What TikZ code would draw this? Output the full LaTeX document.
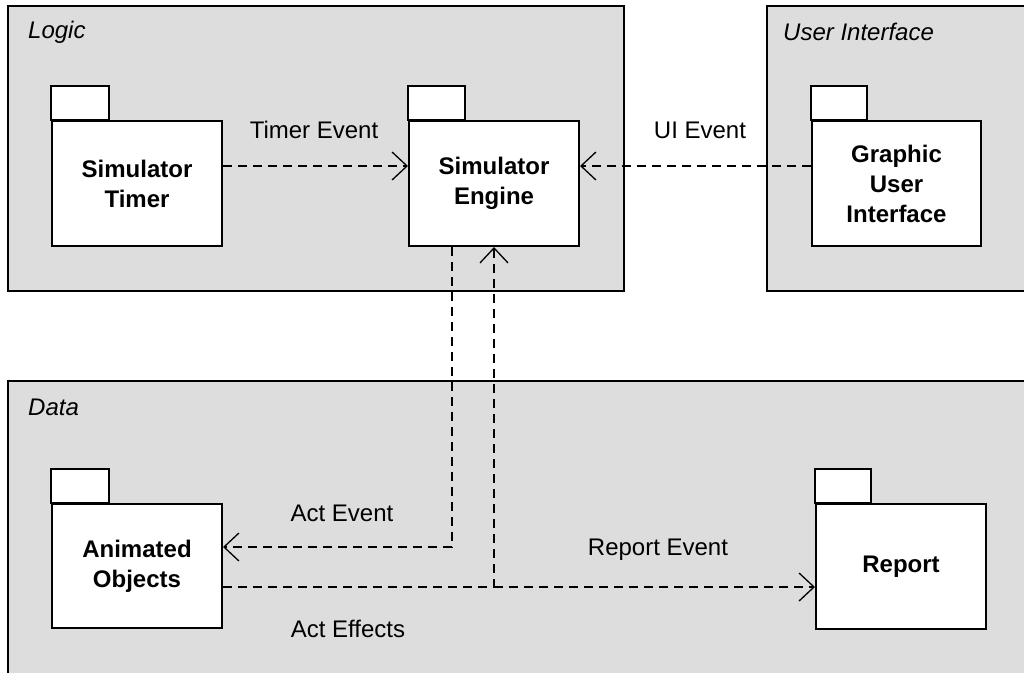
\documentclass[tikz,border=0pt]{standalone}
\usepackage{fontspec}
\setmainfont{Liberation Sans}
\usetikzlibrary{arrows.meta}

\definecolor{framegray}{RGB}{221,221,221}

\tikzset{
  frame/.style={draw=black, line width=2pt, fill=framegray},
  title/.style={font=\fontsize{24}{28}\selectfont\itshape, anchor=west, inner sep=0pt},
  pkg/.style={draw=black, line width=2pt, fill=white, minimum width=170pt,
    minimum height=125pt, inner sep=0pt, align=center,
    font=\fontsize{24}{30}\selectfont\bfseries},
  tab/.style={draw=black, line width=2pt, fill=white},
  dep/.style={line width=1.3pt, dash pattern=on 9pt off 6pt,
    -{Straight Barb[length=15pt, width=28pt]}},
  lbl/.style={font=\fontsize{24}{28}\selectfont, inner sep=0pt}
}

\begin{document}
\begin{tikzpicture}[x = 1pt, y = -1pt]
\useasboundingbox (0, 0) rectangle (1024, 672);
\clip (0, 0) rectangle (1024, 672);

% frames
\draw[frame] (8, 6) rectangle (624, 291);
\draw[frame] (767, 6) rectangle (1040, 291);
\draw[frame] (8, 381) rectangle (1040, 690);
\node[title] (logic) at (28, 32) {Logic};
\node[title] (ui) at (783, 32) {User Interface};
\node[title] (data) at (28, 407) {Data};

% packages
\node[pkg] (timer) at (137, 183.5) {Simulator\\Timer};
\node[pkg] (engine) at (494, 183.5) {Simulator\\Engine};
\node[pkg, minimum width=169pt] (gui) at (896.5, 183.5) {Graphic\\User\\Interface};
\node[pkg, minimum width=170pt, minimum height=124pt] (animated) at (137, 566) {Animated\\Objects};
\node[pkg] (report) at (901, 566.5) {Report};
\draw[tab] (timer.north west) rectangle ++(58, -34);
\draw[tab] (engine.north west) rectangle ++(57, -34);
\draw[tab] (gui.north west) rectangle ++(56, -34);
\draw[tab] (animated.north west) rectangle ++(58, -34);
\draw[tab] (report.north west) rectangle ++(56, -34);

% dependencies
\draw[dep] ([yshift=-46pt]timer.north east) -- ([yshift=-46pt]engine.north west);
\draw[dep] ([yshift=-46pt]gui.north west) -- ([yshift=-46pt]engine.north east);
\draw[dep] ([xshift=-42pt]engine.south) |- ([yshift=-44pt]animated.north east);
\coordinate (effects) at ([yshift=-84pt]animated.north east);
\coordinate (split) at (effects -| engine.south);
\draw[dep] (effects) -- (split) -- (engine.south);
\draw[dep] (split) -- (split -| report.west);

% labels
\node[lbl] (timerev) at (314, 130) {Timer Event};
\node[lbl] (uiev) at (700, 130) {UI Event};
\node[lbl] (actev) at (342, 513) {Act Event};
\node[lbl] (reportev) at (658, 550) {Report Event};
\node[lbl] (actfx) at (348, 629) {Act Effects};
\end{tikzpicture}
\end{document}
